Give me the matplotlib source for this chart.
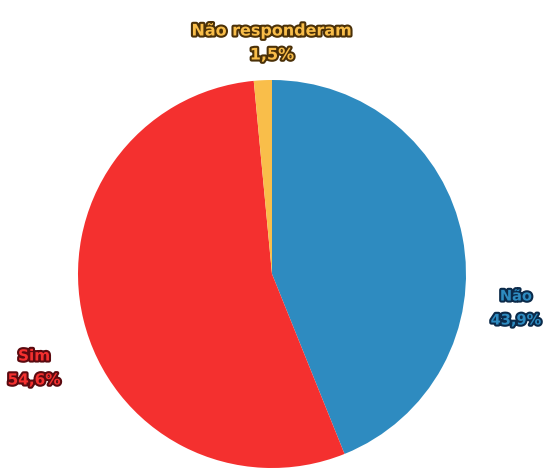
import matplotlib
matplotlib.use("Agg")
import matplotlib.pyplot as plt
import matplotlib.patheffects as pe

# respostas (sentido horario a partir do topo)
labels = ['Não', 'Sim', 'Não responderam']
values = [43.9, 54.6, 1.5]
colors = ['#2E8BC0', '#F4302F', '#F9BE4A']
edge_colors = ['#0B2A4A', '#5A0A10', '#4A3008']

fig = plt.figure(figsize=(5.44, 4.75), dpi=100)
ax = fig.add_axes([0, 0, 1, 1])

ax.pie(values, colors=colors, startangle=90, counterclock=False,
       center=(272, 201), radius=194, frame=True,
       wedgeprops=dict(linewidth=0))
ax.set_xlim(0, 544)
ax.set_ylim(0, 475)
ax.set_aspect('equal')
ax.axis('off')

# posicoes dos rotulos (pixels)
label_pos = [(516, 167), (34, 107), (272, 432)]
sizes = [10.5, 11, 11.5]
for lab, val, col, ec, (x, y), fs in zip(labels, values, colors, edge_colors, label_pos, sizes):
    txt = f"{lab}\n{val:.1f}%".replace('.', ',')
    t = ax.text(x, y, txt, ha='center', va='center', fontsize=fs,
                fontweight='bold', color=col, family='DejaVu Sans',
                linespacing=1.75)
    t.set_path_effects([pe.withStroke(linewidth=3, foreground=ec)])

fig.savefig('out.png', dpi=100, facecolor='white')
